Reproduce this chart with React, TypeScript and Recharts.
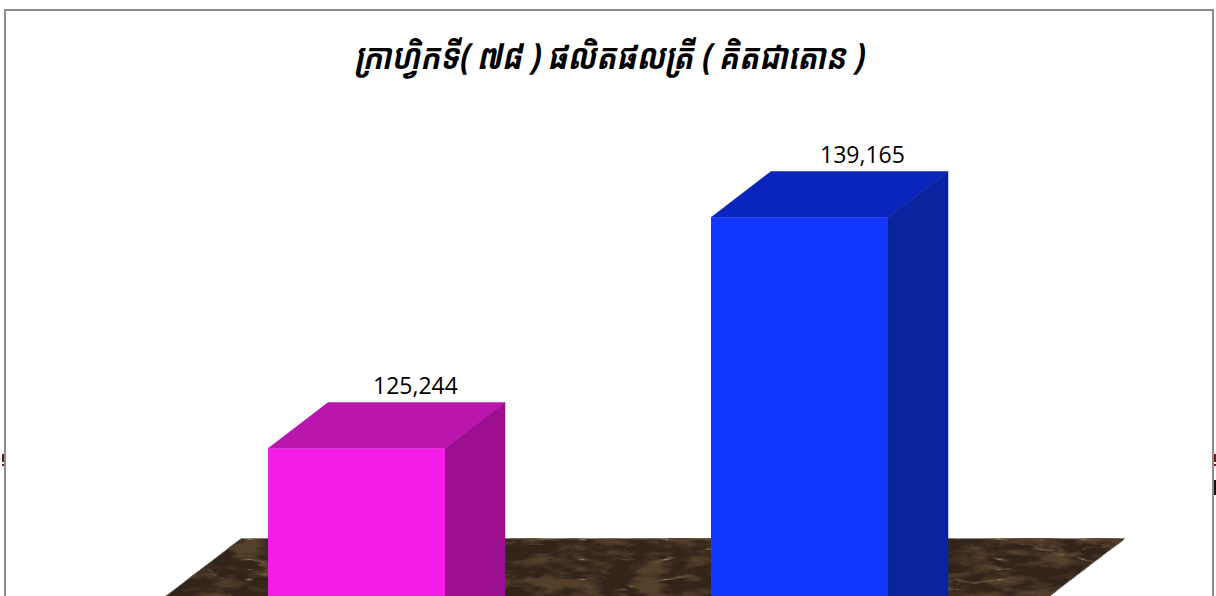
import { BarChart, Bar, XAxis, YAxis, LabelList, ReferenceArea } from "recharts";

const categories = ["ឆ្នាំ២០១៧", "ឆ្នាំ២០១៨"];
const values = [125244, 139165];
const barColors = [
  { front: "#F41CE6", top: "#B916AD", side: "#9B0F90" },
  { front: "#1238FF", top: "#0A25BE", side: "#0A239F" },
];
const labelShift = [59, 63];
const titleText = "ក្រាហ្វិកទី( ៧៨ ) ផលិតផលត្រី ( គិតជាតោន )";

const chartData = categories.map((name, i) => ({ name, value: values[i] }));

const DEPTH_X = 60;
const DEPTH_Y = 46;

function Box3D(props: any) {
  const { x, y, width, height, index } = props;
  const c = barColors[index];
  return (
    <g>
      <polygon
        points={`${x},${y} ${x + DEPTH_X},${y - DEPTH_Y} ${x + width + DEPTH_X},${y - DEPTH_Y} ${x + width},${y}`}
        fill={c.top}
        stroke={c.top}
        strokeWidth={0.5}
      />
      <polygon
        points={`${x + width},${y} ${x + width + DEPTH_X},${y - DEPTH_Y} ${x + width + DEPTH_X},${y + height} ${x + width},${y + height}`}
        fill={c.side}
        stroke={c.side}
        strokeWidth={0.5}
      />
      <rect x={x} y={y} width={width} height={height} fill={c.front} />
    </g>
  );
}

function BoxLabel(props: any) {
  const { x, y, width, value, index } = props;
  return (
    <text
      x={x + width / 2 + labelShift[index]}
      y={y - DEPTH_Y - 8.5}
      textAnchor="middle"
      fontFamily="'Open Sans', sans-serif"
      fontSize={23}
      fill="#000"
    >
      {Number(value).toLocaleString("en-US")}
    </text>
  );
}

function Floor(props: any) {
  const { x, y, width, height } = props;
  const left = x + 106;
  const right = x + width + 104;
  const skew = height * 1.31;
  return (
    <polygon
      points={`${left},${y} ${right},${y} ${right - skew},${y + height} ${left - skew},${y + height}`}
      fill="#33241a"
      stroke="#8a8580"
      strokeWidth={1}
      filter="url(#marble)"
    />
  );
}

export default function App() {
  return (
    <div style={{ position: "absolute", left: 0, top: 0, width: 1216, height: 596, overflow: "hidden", background: "#fff" }}>
      <BarChart
        width={1216}
        height={602}
        data={chartData}
        margin={{ top: 104, right: 195, bottom: 0, left: 135 }}
      >
        <defs>
          <filter id="marble" x="0" y="0" width="100%" height="100%" colorInterpolationFilters="sRGB">
            {/* mottled brown base plus thin tan veins */}
            <feTurbulence type="fractalNoise" baseFrequency="0.03 0.09" numOctaves={4} seed={3} result="clouds" />
            <feColorMatrix
              in="clouds"
              type="matrix"
              values="0 0 0 0 0.33  0 0 0 0 0.25  0 0 0 0 0.17  2.6 2.6 0 0 -2.3"
              result="mottle"
            />
            <feTurbulence type="turbulence" baseFrequency="0.012 0.05" numOctaves={4} seed={11} result="noise" />
            <feColorMatrix
              in="noise"
              type="matrix"
              values="0 0 0 0 0.54  0 0 0 0 0.45  0 0 0 0 0.35  -3 -3 0 0 1.0"
              result="veins"
            />
            <feMerge result="merged">
              <feMergeNode in="SourceGraphic" />
              <feMergeNode in="mottle" />
              <feMergeNode in="veins" />
            </feMerge>
            <feComposite in="merged" in2="SourceAlpha" operator="in" />
          </filter>
        </defs>
        <XAxis dataKey="name" hide />
        <YAxis domain={[116000, 146000]} hide allowDataOverflow />
        <ReferenceArea y1={119820} y2={116000} shape={<Floor />} />
        <Bar dataKey="value" barSize={177} shape={<Box3D />} isAnimationActive={false}>
          <LabelList dataKey="value" content={<BoxLabel />} />
        </Bar>
        <text
          x={609}
          y={69}
          textAnchor="middle"
          fontFamily="'Noto Sans Khmer', 'Khmer OS', 'DejaVu Sans', sans-serif"
          fontSize={36}
          fontStyle="italic"
          fontWeight="bold"
          textLength={509}
          lengthAdjust="spacingAndGlyphs"
          fill="#000"
        >
          {titleText}
        </text>
        <rect x={5} y={10} width={1208} height={700} fill="none" stroke="#8c8c8c" strokeWidth={2} />
        {/* clipped bits of page text that stick out past the frame in the source */}
        <rect x={2} y={454} width={2} height={8} fill="#6b1a1a" />
        <rect x={2} y={464} width={2} height={2} fill="#6b1a1a" />
        <rect x={1214} y={454} width={2} height={8} fill="#6b1a1a" />
        <rect x={1214} y={464} width={2} height={2} fill="#6b1a1a" />
        <rect x={1214} y={480} width={2} height={15} fill="#111" />
      </BarChart>
    </div>
  );
}
